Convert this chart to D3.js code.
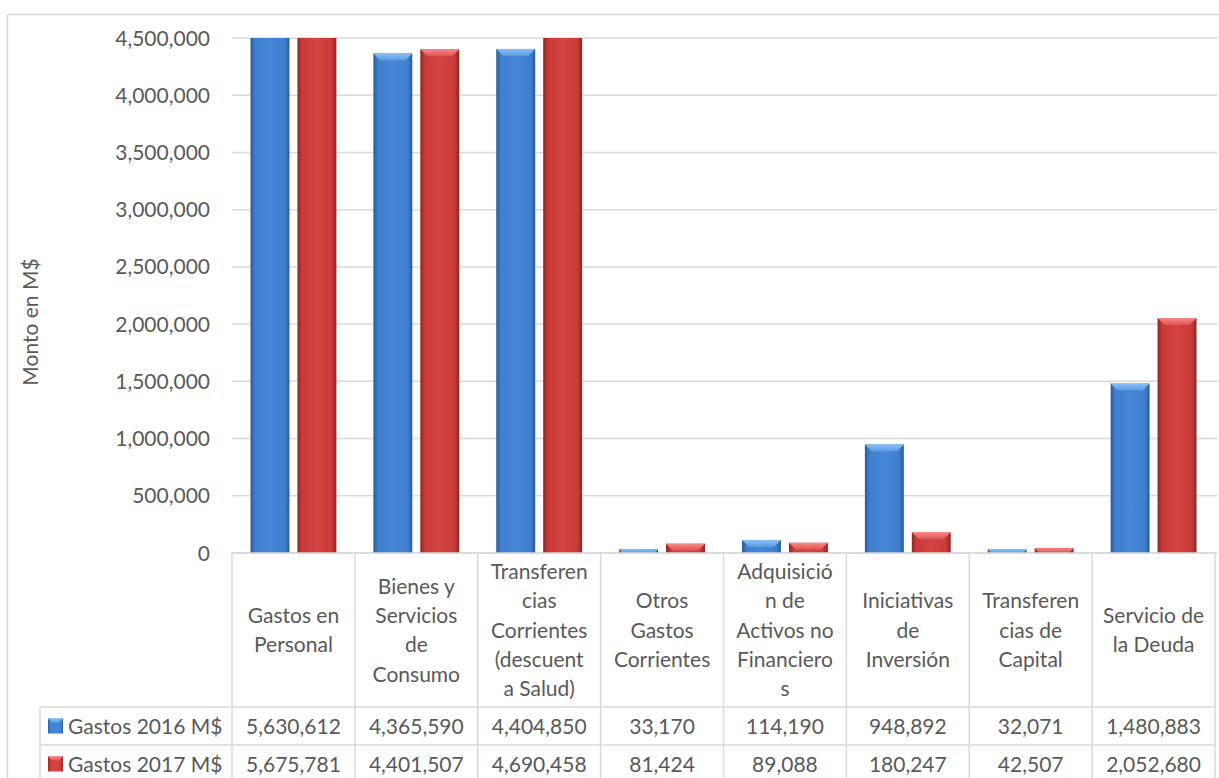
<!DOCTYPE html>
<html>
<head>
<meta charset="utf-8">
<script src="https://cdn.jsdelivr.net/npm/d3@7"></script>
<style>
  body { margin: 0; background: #fff; }
  svg { display: block; font-family: Lato, "Open Sans", sans-serif; }
</style>
</head>
<body>
<svg width="1219" height="778"></svg>
<script>
const categoryLines = [
    ["Gastos en", "Personal"],
    ["Bienes y", "Servicios", "de", "Consumo"],
    ["Transferen", "cias", "Corrientes", "(descuent", "a Salud)"],
    ["Otros", "Gastos", "Corrientes"],
    ["Adquisició", "n de", "Activos no", "Financiero", "s"],
    ["Iniciativas", "de", "Inversión"],
    ["Transferen", "cias de", "Capital"],
    ["Servicio de", "la Deuda"]
];
const categories = categoryLines.map(l => l.join(" "));
const seriesNames = ["Gastos 2016 M$", "Gastos 2017 M$"];
const gastos2016 = [5630612, 4365590, 4404850, 33170, 114190, 948892, 32071, 1480883];
const gastos2017 = [5675781, 4401507, 4690458, 81424, 89088, 180247, 42507, 2052680];
const yTicks = [0, 500000, 1000000, 1500000, 2000000, 2500000, 3000000, 3500000, 4000000, 4500000];

const svg = d3.select("svg");
const textColor = "#595959";
const lineColor = "#d9d9d9";
const fmt = d3.format(",");

const plotLeft = 232, plotRight = 1215, plotTop = 38, plotBottom = 553;
const headerBottom = 707, rowH = 38, legendLeft = 40;

// outer chart frame
svg.append("rect")
    .attr("x", 7.5).attr("y", 14.5)
    .attr("width", 1240).attr("height", 800)
    .attr("fill", "none")
    .attr("stroke", lineColor)
    .attr("stroke-width", 1.5);

const defs = svg.append("defs");
const palette = [
    { id: "b", edge: "#2b5b98", body: "#3f7fd0", mid: "#4586d6", top1: "#8cc0f5", top2: "#5a9ae2" },
    { id: "r", edge: "#8e2624", body: "#c93a38", mid: "#d24341", top1: "#f58a88", top2: "#e0514f" }
];
palette.forEach(p => {
    const gh = defs.append("linearGradient").attr("id", "side-" + p.id)
        .attr("x1", 0).attr("x2", 1).attr("y1", 0).attr("y2", 0);
    gh.append("stop").attr("offset", "0%").attr("stop-color", p.edge);
    gh.append("stop").attr("offset", "12%").attr("stop-color", p.body);
    gh.append("stop").attr("offset", "50%").attr("stop-color", p.mid);
    gh.append("stop").attr("offset", "88%").attr("stop-color", p.body);
    gh.append("stop").attr("offset", "100%").attr("stop-color", p.edge);
    const gv = defs.append("linearGradient").attr("id", "top-" + p.id)
        .attr("x1", 0).attr("x2", 0).attr("y1", 0).attr("y2", 1);
    gv.append("stop").attr("offset", "0%").attr("stop-color", p.top1);
    gv.append("stop").attr("offset", "100%").attr("stop-color", p.top2);
});

defs.append("clipPath").attr("id", "plot-clip")
    .append("rect")
    .attr("x", plotLeft).attr("y", plotTop)
    .attr("width", plotRight - plotLeft).attr("height", plotBottom - plotTop);

const x0 = d3.scaleBand().domain(categories).range([plotLeft, plotRight]);
const x1 = d3.scaleBand().domain(seriesNames)
    .range([18.5, x0.bandwidth() - 18.5])
    .paddingInner(8 / 47);
const y = d3.scaleLinear().domain([0, 4500000]).range([plotBottom, plotTop]);

// gridlines
svg.append("g")
    .selectAll("line")
    .data(yTicks)
    .join("line")
    .attr("x1", plotLeft).attr("x2", plotRight + 2)
    .attr("y1", d => y(d)).attr("y2", d => y(d))
    .attr("stroke", lineColor)
    .attr("stroke-width", 1.5);

// y tick labels
svg.append("g")
    .selectAll("text")
    .data(yTicks)
    .join("text")
    .attr("x", 210)
    .attr("y", d => y(d))
    .attr("dy", "0.36em")
    .attr("text-anchor", "end")
    .attr("font-size", "21px")
    .attr("fill", textColor)
    .text(d => fmt(d));

svg.append("text")
    .attr("transform", "translate(38, 322) rotate(-90)")
    .attr("text-anchor", "middle")
    .attr("font-size", "21px")
    .attr("fill", textColor)
    .text("Monto en M$");

// bars
const barData = [];
categories.forEach((c, i) => {
    barData.push({ cat: c, s: seriesNames[0], v: gastos2016[i], p: palette[0] });
    barData.push({ cat: c, s: seriesNames[1], v: gastos2017[i], p: palette[1] });
});

const bars = svg.append("g").attr("clip-path", "url(#plot-clip)")
    .selectAll("g")
    .data(barData)
    .join("g");

bars.append("rect")
    .attr("x", d => x0(d.cat) + x1(d.s))
    .attr("y", d => y(d.v))
    .attr("width", x1.bandwidth())
    .attr("height", d => plotBottom - y(d.v))
    .attr("fill", d => `url(#side-${d.p.id})`);

// bevelled top face
bars.append("polygon")
    .attr("points", d => {
        const bx = x0(d.cat) + x1(d.s), by = y(d.v), w = x1.bandwidth();
        const b = Math.min(7, plotBottom - by);
        return [[bx, by], [bx + w, by], [bx + w - b, by + b], [bx + b, by + b]].join(" ");
    })
    .attr("fill", d => `url(#top-${d.p.id})`);

// data table
const table = svg.append("g");
const vLines = x0.domain().map(c => x0(c)).concat([plotRight]);
table.selectAll(".vline")
    .data(vLines)
    .join("line")
    .attr("x1", d => d).attr("x2", d => d)
    .attr("y1", plotBottom).attr("y2", 790)
    .attr("stroke", lineColor).attr("stroke-width", 1.5);
table.append("line")
    .attr("x1", legendLeft).attr("x2", legendLeft)
    .attr("y1", headerBottom).attr("y2", 790)
    .attr("stroke", lineColor).attr("stroke-width", 1.5);
[headerBottom, headerBottom + rowH, headerBottom + 2 * rowH].forEach(yy => {
    table.append("line")
        .attr("x1", legendLeft).attr("x2", plotRight)
        .attr("y1", yy).attr("y2", yy)
        .attr("stroke", lineColor).attr("stroke-width", 1.5);
});
table.append("line")
    .attr("x1", plotLeft).attr("x2", plotRight)
    .attr("y1", plotBottom).attr("y2", plotBottom)
    .attr("stroke", lineColor).attr("stroke-width", 1.5);

// category header text
const lineH = 29.3;
const headerMid = (plotBottom + headerBottom) / 2;
table.selectAll(".cat")
    .data(categoryLines)
    .join("text")
    .attr("class", "cat")
    .attr("text-anchor", "middle")
    .attr("font-size", "21px")
    .attr("fill", textColor)
    .each(function(lines, i) {
        const cx = x0(categories[i]) + x0.bandwidth() / 2;
        const y0 = headerMid - (lines.length - 1) * lineH / 2;
        d3.select(this).selectAll("tspan")
            .data(lines)
            .join("tspan")
            .attr("x", cx)
            .attr("y", (d, k) => y0 + k * lineH)
            .attr("dy", "0.36em")
            .text(d => d);
    });

// value rows
const rows = [gastos2016, gastos2017];
rows.forEach((vals, r) => {
    const cy = headerBottom + rowH * r + rowH / 2;
    table.append("g")
        .selectAll("text")
        .data(vals)
        .join("text")
        .attr("x", (d, i) => x0(categories[i]) + x0.bandwidth() / 2)
        .attr("y", cy)
        .attr("dy", "0.36em")
        .attr("text-anchor", "middle")
        .attr("font-size", "21px")
        .attr("fill", textColor)
        .text(d => fmt(d));

    const p = palette[r];
    table.append("rect")
        .attr("x", 48).attr("y", cy - 7.5)
        .attr("width", 15).attr("height", 15)
        .attr("fill", `url(#side-${p.id})`);
    table.append("polygon")
        .attr("points", [[48, cy - 7.5], [63, cy - 7.5], [59, cy - 3.5], [52, cy - 3.5]].join(" "))
        .attr("fill", `url(#top-${p.id})`);
    table.append("text")
        .attr("x", 68)
        .attr("y", cy)
        .attr("dy", "0.36em")
        .attr("font-size", "21px")
        .attr("fill", textColor)
        .text(seriesNames[r]);
});
</script>
</body>
</html>
